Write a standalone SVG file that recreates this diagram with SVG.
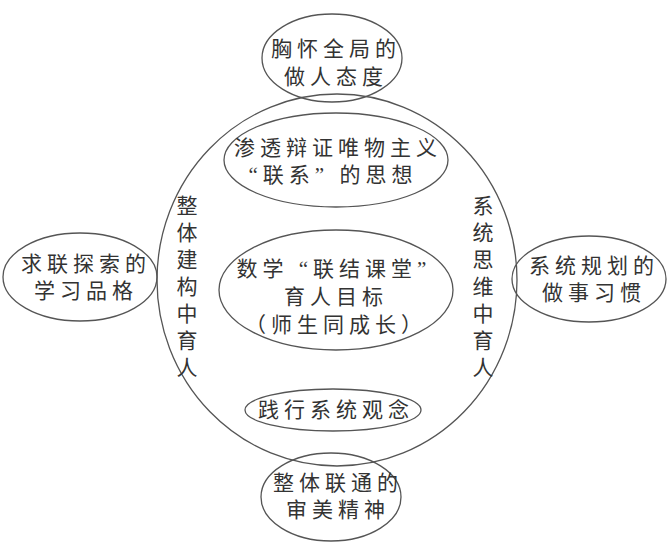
<svg xmlns="http://www.w3.org/2000/svg" width="669" height="543" viewBox="0 0 669 543">
<style>
.e{fill:none;stroke:#555;stroke-width:1.3}
.t{font-family:"Liberation Serif","Noto Sans CJK SC",serif;font-size:21px;fill:#333;text-anchor:middle;dominant-baseline:central;letter-spacing:5px}
.v{font-family:"Liberation Serif","Noto Sans CJK SC",serif;font-size:21px;fill:#333;text-anchor:middle;dominant-baseline:central}
</style>
<rect width="669" height="543" fill="#fff"/>
<g id="big-circle"><ellipse class="e" cx="337" cy="280" rx="180" ry="186"/></g>
<g id="top"><ellipse class="e" cx="332" cy="58" rx="70" ry="44"/>
<text class="t" x="336" y="49">胸怀全局的</text><text class="t" x="336" y="77">做人态度</text></g>
<g id="left"><ellipse class="e" cx="80" cy="277" rx="77" ry="44"/>
<text class="t" x="86" y="264">求联探索的</text><text class="t" x="86" y="291">学习品格</text></g>
<g id="right"><ellipse class="e" cx="589" cy="279" rx="77" ry="43"/>
<text class="t" x="594" y="266">系统规划的</text><text class="t" x="594" y="293">做事习惯</text></g>
<g id="bottom"><ellipse class="e" cx="331" cy="497" rx="70" ry="44"/>
<text class="t" x="338" y="483">整体联通的</text><text class="t" x="338" y="510">审美精神</text></g>
<g id="inner-top"><ellipse class="e" cx="336" cy="160" rx="112" ry="47"/>
<text class="t" x="338" y="148">渗透辩证唯物主义</text><text class="t" x="333" y="175">“联系” 的思想</text></g>
<g id="center"><ellipse class="e" cx="336" cy="290" rx="117" ry="60"/>
<text class="t" x="334" y="269">数学 “联结课堂”</text><text class="t" x="336" y="297">育人目标</text><text class="t" x="336" y="325">（师生同成长）</text></g>
<g id="inner-bottom"><ellipse class="e" cx="333" cy="410" rx="88" ry="21"/>
<text class="t" x="336" y="410">践行系统观念</text></g>
<g id="left-vertical"><text class="v"><tspan x="187" y="206">整</tspan><tspan x="187" y="233">体</tspan><tspan x="187" y="260">建</tspan><tspan x="187" y="287">构</tspan><tspan x="187" y="314">中</tspan><tspan x="187" y="341">育</tspan><tspan x="187" y="368">人</tspan></text></g>
<g id="right-vertical"><text class="v"><tspan x="483" y="206">系</tspan><tspan x="483" y="233">统</tspan><tspan x="483" y="260">思</tspan><tspan x="483" y="287">维</tspan><tspan x="483" y="314">中</tspan><tspan x="483" y="341">育</tspan><tspan x="483" y="368">人</tspan></text></g>
<g id="connectors"></g>
</svg>
